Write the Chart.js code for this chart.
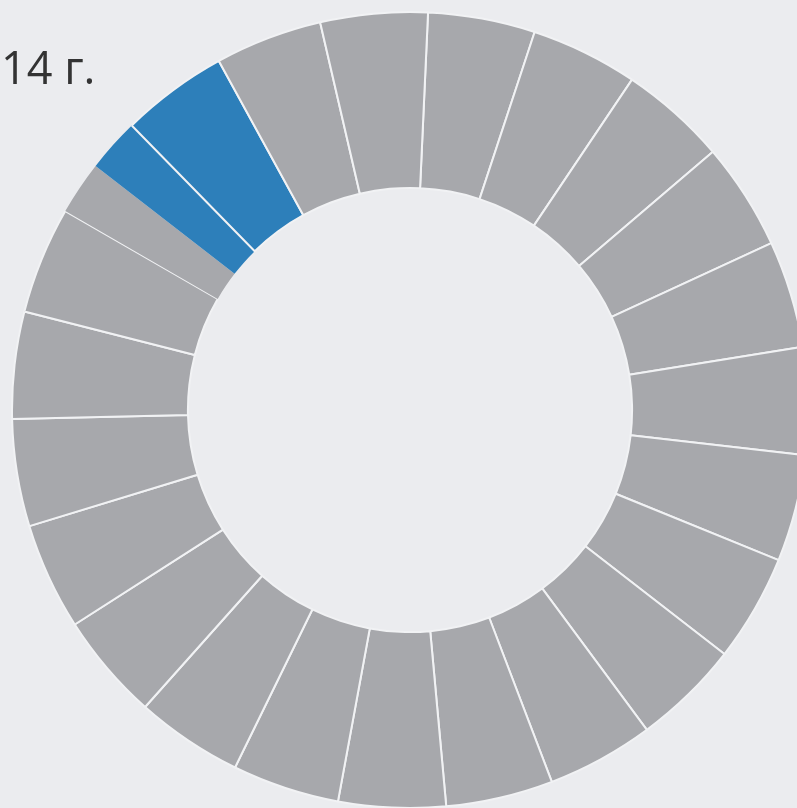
<!DOCTYPE html>
<html>
<head>
<meta charset="utf-8">
<script src="https://cdn.jsdelivr.net/npm/chart.js@4"></script>
<style>
    html, body { margin: 0; padding: 0; width: 797px; height: 808px; overflow: hidden; background: #ebecef; }
    #wrap { position: absolute; left: 11px; top: 11px; width: 798px; height: 798px; }
    #caption {
        position: absolute; left: 1px; top: 36px;
        font-family: 'Open Sans', sans-serif; font-size: 45px; color: #333333;
        white-space: nowrap;
    }
</style>
</head>
<body>
<div id="wrap"><canvas id="canvas"></canvas></div>
<div id="caption">14 г.</div>
<script>
// 23 равных долей, одна из них разбита пополам (серая + синяя половинки)
const segmentLabels = [
    '1', '2', '3', '4', '5', '6', '7', '8', '9', '10',
    '11', '12', '13', '14', '15', '16', '17', '18', '19',
    '20a', '20b', '21', '22', '23'
];
const segmentValues = [
    1, 1, 1, 1, 1, 1, 1, 1, 1, 1,
    1, 1, 1, 1, 1, 1, 1, 1, 1,
    0.5, 0.5, 1, 1, 1
];
const highlighted = [false, false, false, false, false, false, false, false, false, false,
    false, false, false, false, false, false, false, false, false,
    false, true, true, false, false];

const GRAY = '#a7a8ac';
const BLUE = '#2d7fba';

let ctx = null;
let chart = null;

function drawChart() {
    ctx = document.getElementById('canvas').getContext('2d');

    const colors = highlighted.map(h => h ? BLUE : GRAY);
    // половинки без разделителя между собой
    const borders = segmentLabels.map(l => (l === '20a' || l === '20b') ? 0 : 2);

    chart = new Chart(ctx, {
        type: 'doughnut',
        data: {
            labels: segmentLabels,
            datasets: [{
                data: segmentValues,
                backgroundColor: colors,
                borderColor: '#f1f2f4',
                borderWidth: borders
            }]
        },
        options: {
            responsive: true,
            maintainAspectRatio: false,
            animation: false,
            rotation: 2.6,
            cutout: '55.8%',
            layout: { padding: 0 },
            plugins: {
                legend: { display: false },
                tooltip: { enabled: false }
            }
        }
    });
}

drawChart();
</script>
</body>
</html>
